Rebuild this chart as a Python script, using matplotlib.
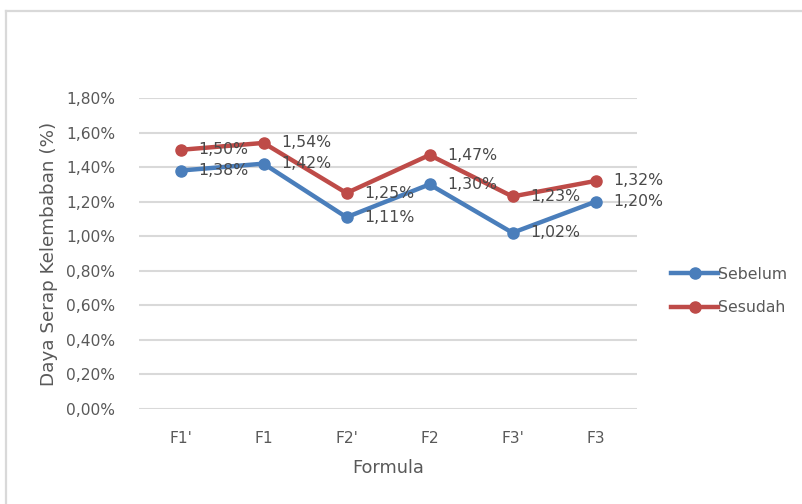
import matplotlib
matplotlib.use("Agg")
import matplotlib.pyplot as plt
from matplotlib.lines import Line2D

categories = ["F1'", "F1", "F2'", "F2", "F3'", "F3"]
sebelum = [1.38, 1.42, 1.11, 1.30, 1.02, 1.20]
sesudah = [1.50, 1.54, 1.25, 1.47, 1.23, 1.32]
y_ticks = [0.0, 0.2, 0.4, 0.6, 0.8, 1.0, 1.2, 1.4, 1.6, 1.8]

blue = "#4A7EBB"
red = "#BE4B48"
grid_c = "#D9D9D9"
tick_c = "#595959"
lab_c = "#4A4A4A"

plt.rcParams["font.family"] = ["DejaVu Sans"]

W, H = 802, 504
fig = plt.figure(figsize=(W / 100, H / 100), dpi=100)
fig.patch.set_facecolor("white")

# chart frame: top and left edges only
fx, fy = 6 / W, 1 - 11 / H
fig.add_artist(Line2D([fx, 1.0], [fy, fy], transform=fig.transFigure,
                      color="#D9D9D9", linewidth=1.6))
fig.add_artist(Line2D([fx, fx], [0.0, fy], transform=fig.transFigure,
                      color="#D9D9D9", linewidth=1.6))

ax = fig.add_axes([139 / W, 1 - 409 / H, (637 - 139) / W, (409 - 98) / H])
x = list(range(len(categories)))

ax.set_xlim(-0.5, len(categories) - 0.5)
ax.set_ylim(0, 1.8)
ax.set_yticks(y_ticks)
ax.set_yticklabels([f"{v:.2f}%".replace(".", ",") for v in y_ticks])
ax.set_xticks(x)
ax.set_xticklabels(categories)
for s in ax.spines.values():
    s.set_visible(False)
ax.tick_params(axis="both", length=0, colors=tick_c, labelsize=11.2)
ax.tick_params(axis="y", pad=17)
ax.tick_params(axis="x", pad=16)
for v in y_ticks:
    ax.axhline(v, color=grid_c, linewidth=1.5, zorder=0)

for vals, col in ((sebelum, blue), (sesudah, red)):
    ax.plot(x, vals, color=col, linewidth=3.2, marker="o", markersize=8,
            solid_capstyle="round", zorder=3, clip_on=False)
    for xi, v in zip(x, vals):
        ax.annotate(f"{v:.2f}%".replace(".", ","), (xi, v), xytext=(13, 0),
                    textcoords="offset points", va="center", ha="left",
                    fontsize=11.3, color=lab_c, zorder=4)

ax.set_xlabel("Formula", fontsize=12.8, color=tick_c, labelpad=9)
ax.set_ylabel("Daya Serap Kelembaban (%)", fontsize=13.2, color=tick_c, labelpad=8)
ax.yaxis.set_label_coords(-0.163, 0.5)

handles = [Line2D([], [], color=blue, linewidth=3.2, marker="o", markersize=8),
           Line2D([], [], color=red, linewidth=3.2, marker="o", markersize=8)]
leg = fig.legend(handles, ["Sebelum", "Sesudah"], loc="center left",
                 bbox_to_anchor=(657 / W, 1 - 291 / H), frameon=False,
                 handlelength=3.0, handletextpad=0.0, labelspacing=1.2,
                 fontsize=11.3)
for t in leg.get_texts():
    t.set_color(tick_c)

fig.savefig("out.png", dpi=100)
